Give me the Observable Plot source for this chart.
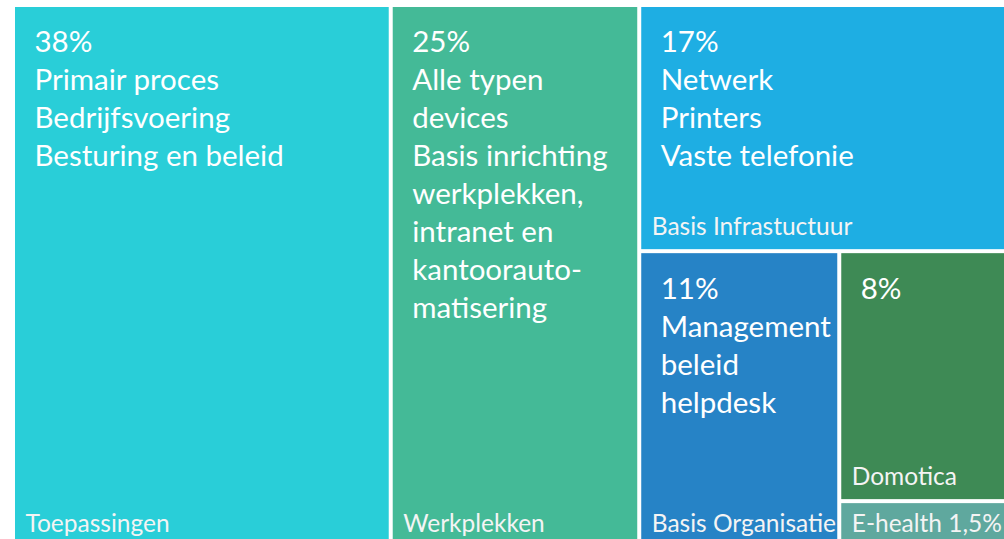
<!DOCTYPE html>
<html>
<head>
<meta charset="utf-8">
<script src="https://cdn.jsdelivr.net/npm/d3@7"></script>
<script src="https://cdn.jsdelivr.net/npm/@observablehq/plot@0.6"></script>
<style>
  html, body { margin: 0; padding: 0; background: #fff; overflow: hidden; }
  #chart svg { display: block; max-width: none !important; }
</style>
</head>
<body>
<div id="chart"></div>
<script>
// ---- data ----
const categories = ["Toepassingen", "Werkplekken", "Basis Infrastuctuur", "Basis Organisatie", "Domotica", "E-health"];
const shares = [38, 25, 17, 11, 8, 1.5];
const shareLabels = ["38%", "25%", "17%", "11%", "8%", "1,5%"];
const details = [
  ["Primair proces", "Bedrijfsvoering", "Besturing en beleid"],
  ["Alle typen", "devices", "Basis inrichting", "werkplekken,", "intranet en", "kantoorauto-", "matisering"],
  ["Netwerk", "Printers", "Vaste telefonie"],
  ["Management", "beleid", "helpdesk"],
  [],
  []
];
const colors = ["#29CED8", "#44BA97", "#1EAEE3", "#2683C6", "#3E8A55", "#5FA89E"];

// ---- layout ----
const width = 1010, height = 546;
const marginLeft = 15, marginTop = 7;
const W = width - marginLeft, H = height - marginTop;

const items = categories.map((name, i) => ({name, value: shares[i], share: shareLabels[i], details: details[i]}));
function chain(i) {
  return i >= items.length - 2 ? items.slice(i) : [items[i], {children: chain(i + 1)}];
}
const tree = {children: [items[0], items[1], {children: chain(2)}]};
const root = d3.hierarchy(tree).sum(d => d.children ? 0 : d.value);
d3.treemap().tile(d3.treemapSliceDice).size([W, H]).paddingInner(4).round(false)(root);
const leaves = root.leaves().map(l => ({...l.data, x0: l.x0, x1: l.x1, y0: l.y0, y1: l.y1}));

const bigLeaves = leaves.filter(d => d.value >= 5);
const smallLeaves = leaves.filter(d => d.value < 5);

const mainFont = 29.5;
const labelFont = 24.5;
const plot = Plot.plot({
  width, height,
  marginLeft, marginTop, marginRight: 0, marginBottom: 0,
  x: {domain: [0, W], axis: null},
  y: {domain: [0, H], reverse: true, axis: null},
  color: {domain: categories, range: colors},
  style: {fontFamily: "Lato, 'Open Sans', sans-serif", background: "#fff"},
  marks: [
    Plot.rect(leaves, {x1: "x0", x2: "x1", y1: "y0", y2: "y1", fill: "name"}),
    Plot.text(bigLeaves, {
      x: "x0", y: "y0",
      text: d => [d.share, ...d.details].join("\n"),
      textAnchor: "start", lineAnchor: "top",
      dx: 19, dy: 18,
      fill: "white", fontSize: mainFont, lineHeight: 38 / mainFont
    }),
    Plot.text(bigLeaves, {
      x: "x0", y: "y1", text: "name",
      textAnchor: "start", lineAnchor: "bottom",
      dx: 10, dy: -15,
      fill: "#f4f4f4", fontSize: labelFont
    }),
    Plot.text(smallLeaves, {
      x: "x0", y: "y1", text: d => d.name + " " + d.share,
      textAnchor: "start", lineAnchor: "bottom",
      dx: 10, dy: -15,
      fill: "#f4f4f4", fontSize: labelFont
    })
  ]
});
document.getElementById("chart").appendChild(plot);
</script>
</body>
</html>
